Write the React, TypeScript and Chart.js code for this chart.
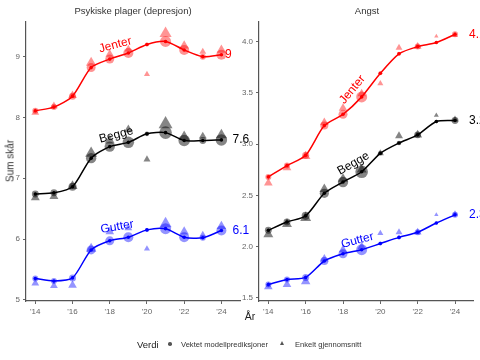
import React, { useEffect, useRef } from "react";
import { Chart, registerables } from "chart.js";
Chart.register(...registerables);

const FONT = "'Liberation Sans', Arial, sans-serif";

const years = [2014, 2015, 2016, 2017, 2018, 2019, 2020, 2021, 2022, 2023, 2024];
const tickYears = [2014, 2016, 2018, 2020, 2022, 2024];
const groupNames = ["Jenter", "Begge", "Gutter"];
const groupColors = ["#FF0000", "#000000", "#0000FF"];
const groupFill = ["rgba(255,0,0,0.42)", "rgba(0,0,0,0.48)", "rgba(0,0,255,0.42)"];

// Psykiske plager (depresjon)
const depJenter = [8.11, 8.17, 8.35, 8.82, 8.96, 9.06, 9.2, 9.25, 9.11, 9.0, 9.03];
const depJenterMean = [8.08, 8.19, 8.36, 8.9, 9.04, 9.12, 8.71, 9.38, 9.18, 9.08, 9.11];
const depBegge = [6.74, 6.76, 6.86, 7.33, 7.52, 7.59, 7.73, 7.75, 7.62, 7.62, 7.63];
const depBeggeMean = [6.68, 6.7, 6.87, 7.41, 7.62, 7.8, 7.31, 7.89, 7.68, 7.69, 7.71];
const depGutter = [5.35, 5.31, 5.36, 5.82, 5.97, 6.03, 6.15, 6.17, 6.03, 6.02, 6.14];
const depGutterMean = [5.27, 5.23, 5.24, 5.84, 6.12, 6.18, 5.84, 6.25, 6.12, 6.07, 6.21];
const depCircleR = [3, 3, 3.5, 4.5, 4.5, 5, 2, 5.5, 5, 3, 5];
const depTriR = [4.5, 4.5, 5, 6, 5, 4.5, 3.5, 7, 5.5, 4, 5.5];
const depYTicks = [5, 6, 7, 8, 9];
const depLabelX = [2018.3, 2018.35, 2018.4];
const depLabelY = [9.19, 7.71, 6.2];
const depLabelRot = [-15, -15, -10];
const depEndX = [2024.2, 2024.6, 2024.6];

// Angst
const anxJenter = [2.68, 2.79, 2.89, 3.18, 3.29, 3.46, 3.69, 3.88, 3.95, 3.99, 4.07];
const anxJenterMean = [2.62, 2.77, 2.88, 3.21, 3.35, 3.49, 3.59, 3.94, 3.95, 4.05, 4.06];
const anxBegge = [2.16, 2.24, 2.3, 2.52, 2.63, 2.73, 2.91, 3.01, 3.09, 3.22, 3.23];
const anxBeggeMean = [2.12, 2.22, 2.28, 2.56, 2.66, 2.75, 2.91, 3.08, 3.09, 3.28, 3.24];
const anxGutter = [1.63, 1.68, 1.7, 1.86, 1.93, 1.97, 2.03, 2.09, 2.14, 2.23, 2.31];
const anxGutterMean = [1.61, 1.63, 1.66, 1.88, 1.97, 2.0, 2.13, 2.14, 2.14, 2.31, 2.32];
const anxCircleR = [3, 3, 3.5, 4, 4.5, 5.5, 2, 2, 3, 1.5, 3];
const anxTriR = [5, 5, 5.5, 5, 5, 5, 3.5, 4, 4.5, 2.5, 3.5];
const anxYTicks = [1.5, 2.0, 2.5, 3.0, 3.5, 4.0];
const anxLabelX = [2018.5, 2018.56, 2018.77];
const anxLabelY = [3.53, 2.81, 2.06];
const anxLabelRot = [-50, -30, -15];
const anxEndX = [2024.75, 2024.75, 2024.75];

type Panel = {
  preds: number[][];
  means: number[][];
  circleR: number[];
  triR: number[];
  yMin: number;
  yMax: number;
  yTicks: number[];
  yDecimals: number;
  labelX: number[];
  labelY: number[];
  labelRot: number[];
  endX: number[];
  yAxisWidth: number;
  padRight: number;
};

function fmtEnd(v: number) {
  return String(Number(v.toFixed(1)));
}

function buildConfig(p: Panel): any {
  const datasets: any[] = [];
  p.preds.forEach((arr, g) => {
    datasets.push({
      data: years.map((x, i) => ({ x, y: arr[i] })),
      showLine: true,
      borderColor: groupColors[g],
      backgroundColor: groupColors[g],
      borderWidth: 1.5,
      pointRadius: 1.8,
      pointBorderWidth: 0,
      tension: 0.25,
    });
  });
  p.preds.forEach((arr, g) => {
    const mult = g === 1 ? 1.15 : 1;
    datasets.push({
      data: years.map((x, i) => ({ x, y: arr[i] })),
      showLine: false,
      backgroundColor: groupFill[g],
      borderWidth: 0,
      pointRadius: p.circleR.map((r) => r * mult),
      pointStyle: "circle",
    });
  });
  p.means.forEach((arr, g) => {
    const mult = g === 1 ? 1.15 : 1;
    datasets.push({
      data: years.map((x, i) => ({ x, y: arr[i] })),
      showLine: false,
      backgroundColor: groupFill[g],
      borderWidth: 0,
      pointRadius: p.triR.map((r) => r * mult),
      pointStyle: "triangle",
    });
  });

  const labelPlugin = {
    id: "groupLabels",
    afterDatasetsDraw(chart: any) {
      const { ctx, scales } = chart;
      const xs = scales.x;
      const ys = scales.y;
      ctx.save();
      groupNames.forEach((name, g) => {
        ctx.save();
        ctx.translate(xs.getPixelForValue(p.labelX[g]), ys.getPixelForValue(p.labelY[g]));
        ctx.rotate((p.labelRot[g] * Math.PI) / 180);
        ctx.font = `12px ${FONT}`;
        ctx.fillStyle = groupColors[g];
        ctx.textAlign = "center";
        ctx.textBaseline = "middle";
        ctx.fillText(name, 0, 0);
        ctx.restore();
        const last = p.preds[g][p.preds[g].length - 1];
        ctx.font = `12px ${FONT}`;
        ctx.fillStyle = groupColors[g];
        ctx.textAlign = "left";
        ctx.textBaseline = "middle";
        ctx.fillText(fmtEnd(last), xs.getPixelForValue(p.endX[g]), ys.getPixelForValue(last));
      });
      ctx.restore();
    },
  };

  return {
    type: "scatter",
    data: { datasets },
    plugins: [labelPlugin],
    options: {
      responsive: false,
      animation: false,
      devicePixelRatio: 1,
      clip: false,
      layout: { padding: { top: 22, right: p.padRight, left: 0, bottom: 0 } },
      plugins: { legend: { display: false }, tooltip: { enabled: false }, title: { display: false } },
      scales: {
        x: {
          type: "linear",
          min: 2013.5,
          max: 2025,
          afterBuildTicks: (axis: any) => {
            axis.ticks = tickYears.map((v) => ({ value: v }));
          },
          afterFit: (s: any) => {
            s.height = 19;
          },
          ticks: {
            callback: (v: any) => "'" + String(v).slice(2),
            color: "#666",
            font: { size: 8, family: FONT },
            maxRotation: 0,
            autoSkip: false,
            padding: 3,
          },
          grid: { display: true, drawOnChartArea: false, drawTicks: true, tickLength: 3, color: "#666" },
          border: { display: true, color: "#555", width: 1.2 },
        },
        y: {
          type: "linear",
          min: p.yMin,
          max: p.yMax,
          afterBuildTicks: (axis: any) => {
            axis.ticks = p.yTicks.map((v) => ({ value: v }));
          },
          afterFit: (s: any) => {
            s.width = p.yAxisWidth;
          },
          ticks: {
            callback: (v: any) => Number(v).toFixed(p.yDecimals),
            color: "#666",
            font: { size: 8, family: FONT },
            padding: 3,
          },
          grid: { display: true, drawOnChartArea: false, drawTicks: true, tickLength: 3, color: "#666" },
          border: { display: true, color: "#555", width: 1.2 },
        },
      },
    },
  };
}

function PanelChart({ panel, left, width }: { panel: Panel; left: number; width: number }) {
  const ref = useRef<HTMLCanvasElement | null>(null);
  useEffect(() => {
    if (!ref.current) return;
    const chart = new Chart(ref.current, buildConfig(panel));
    return () => chart.destroy();
  }, []);
  return (
    <canvas
      ref={ref}
      width={width}
      height={320}
      style={{ position: "absolute", left, top: 0, width, height: 320 }}
    />
  );
}

const depPanel: Panel = {
  preds: [depJenter, depBegge, depGutter],
  means: [depJenterMean, depBeggeMean, depGutterMean],
  circleR: depCircleR,
  triR: depTriR,
  yMin: 4.98,
  yMax: 9.57,
  yTicks: depYTicks,
  yDecimals: 0,
  labelX: depLabelX,
  labelY: depLabelY,
  labelRot: depLabelRot,
  endX: depEndX,
  yAxisWidth: 26,
  padRight: 20,
};

const anxPanel: Panel = {
  preds: [anxJenter, anxBegge, anxGutter],
  means: [anxJenterMean, anxBeggeMean, anxGutterMean],
  circleR: anxCircleR,
  triR: anxTriR,
  yMin: 1.47,
  yMax: 4.19,
  yTicks: anxYTicks,
  yDecimals: 1,
  labelX: anxLabelX,
  labelY: anxLabelY,
  labelRot: anxLabelRot,
  endX: anxEndX,
  yAxisWidth: 27,
  padRight: 5,
};

export default function App() {
  const txt: React.CSSProperties = { position: "absolute", fontFamily: FONT, color: "#222", whiteSpace: "nowrap" };
  return (
    <div style={{ position: "fixed", left: 0, top: 0, width: 480, height: 360, background: "#fff", overflow: "hidden" }}>
      <PanelChart panel={depPanel} left={0} width={260} />
      <PanelChart panel={anxPanel} left={232} width={248} />
      <div style={{ ...txt, left: 26, width: 214, top: 5, textAlign: "center", fontSize: 9.5, color: "#333" }}>
        Psykiske plager (depresjon)
      </div>
      <div style={{ ...txt, left: 259, width: 216, top: 5, textAlign: "center", fontSize: 9.5, color: "#333" }}>
        Angst
      </div>
      <div
        style={{
          ...txt,
          left: 10,
          top: 161,
          fontSize: 10,
          color: "#333",
          transform: "translate(-50%, -50%) rotate(-90deg)",
        }}
      >
        Sum skår
      </div>
      <div style={{ ...txt, left: 250, top: 316, fontSize: 10.5, transform: "translate(-50%, -50%)" }}>År</div>
      <div style={{ ...txt, left: 137, top: 344, fontSize: 9.5, transform: "translateY(-50%)" }}>Verdi</div>
      <div
        style={{
          position: "absolute",
          left: 168,
          top: 342,
          width: 3.5,
          height: 3.5,
          borderRadius: "50%",
          background: "#555",
        }}
      />
      <div style={{ ...txt, left: 181, top: 344, fontSize: 7.6, transform: "translateY(-50%)", color: "#333" }}>
        Vektet modellprediksjoner
      </div>
      <div
        style={{
          position: "absolute",
          left: 280,
          top: 340.5,
          width: 0,
          height: 0,
          borderLeft: "2.2px solid transparent",
          borderRight: "2.2px solid transparent",
          borderBottom: "4px solid #555",
        }}
      />
      <div style={{ ...txt, left: 295, top: 344, fontSize: 7.6, transform: "translateY(-50%)", color: "#333" }}>
        Enkelt gjennomsnitt
      </div>
    </div>
  );
}
